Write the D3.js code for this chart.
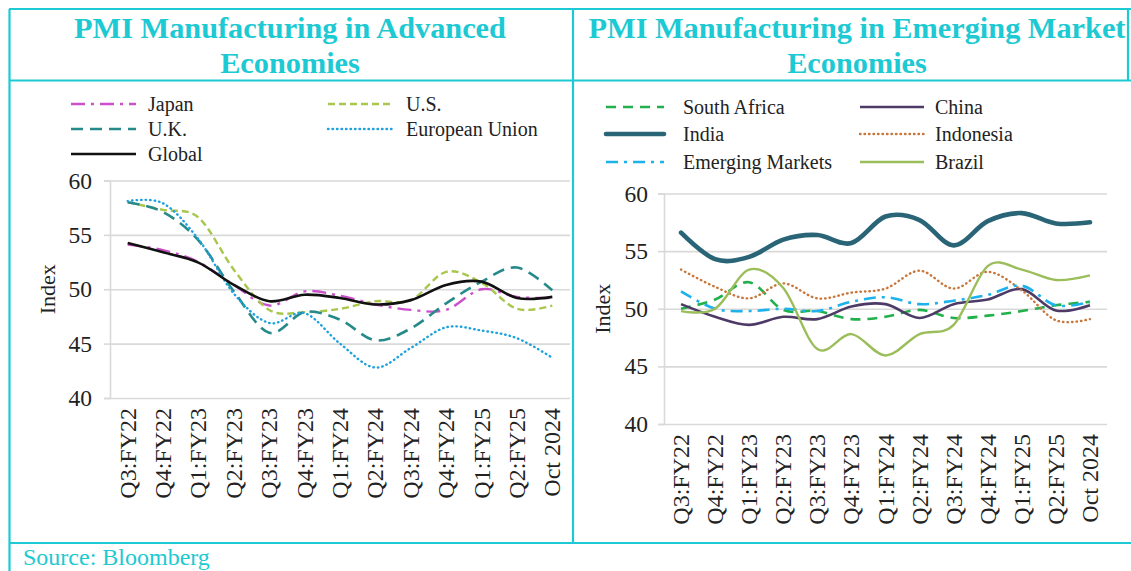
<!DOCTYPE html>
<html>
<head>
<meta charset="utf-8">
<script src="https://cdn.jsdelivr.net/npm/d3@7"></script>
<style>
body { margin: 0; background: #fff; }
svg { font-family: "Liberation Serif", "Times New Roman", serif; }
</style>
</head>
<body>
<script>
// categories (same for both panels)
var cats = ["Q3:FY22", "Q4:FY22", "Q1:FY23", "Q2:FY23", "Q3:FY23", "Q4:FY23",
	"Q1:FY24", "Q2:FY24", "Q3:FY24", "Q4:FY24", "Q1:FY25", "Q2:FY25", "Oct 2024"];
var yTicks = [40, 45, 50, 55, 60];

// advanced economies
var japan  = [54.1, 53.6, 52.5, 50.4, 48.5, 49.8, 49.4, 48.6, 48.1, 48.1, 50.0, 49.3, 49.2];
var us     = [58.0, 57.3, 56.6, 51.8, 48.1, 47.9, 48.2, 48.9, 49.0, 51.6, 50.6, 48.2, 48.5];
var uk     = [58.0, 57.1, 54.5, 49.8, 46.0, 47.9, 47.2, 45.3, 46.4, 48.7, 50.7, 52.0, 49.9];
var eu     = [58.1, 57.9, 54.6, 49.6, 46.9, 47.8, 45.0, 42.8, 44.6, 46.5, 46.2, 45.5, 43.7];
var global = [54.25, 53.4, 52.45, 50.4, 48.9, 49.5, 49.2, 48.6, 49.0, 50.4, 50.7, 49.2, 49.3];

// emerging markets
var southAfrica = [50.0, 50.8, 52.3, 49.9, 49.8, 49.1, 49.3, 49.9, 49.2, 49.4, 49.8, 50.3, 50.6];
var china       = [50.4, 49.3, 48.6, 49.3, 49.1, 50.2, 50.4, 49.2, 50.4, 50.8, 51.7, 49.85, 50.3];
var india       = [56.6, 54.3, 54.5, 56.0, 56.4, 55.7, 58.0, 57.7, 55.5, 57.6, 58.3, 57.4, 57.5];
var indonesia   = [53.4, 51.9, 50.9, 52.2, 50.9, 51.4, 51.75, 53.3, 51.75, 53.2, 51.6, 49.0, 49.1];
var emerging    = [51.5, 50.0, 49.8, 50.0, 49.8, 50.6, 51.0, 50.4, 50.7, 51.2, 52.0, 50.3, 50.6];
var brazil      = [49.8, 50.0, 53.4, 51.8, 46.5, 47.8, 45.95, 47.8, 48.6, 53.7, 53.4, 52.5, 52.9];

var frameColor = "#1DC9D2";

var svg = d3.select("body").append("svg")
	.attr("width", 1131)
	.attr("height", 571);

// frame / table lines
var frame = svg.append("g")
	.attr("stroke", frameColor)
	.attr("stroke-width", 2.2)
	.attr("fill", "none");
frame.append("line").attr("x1", 9).attr("x2", 1131).attr("y1", 9).attr("y2", 9);
frame.append("line").attr("x1", 9).attr("x2", 1131).attr("y1", 80.5).attr("y2", 80.5);
frame.append("line").attr("x1", 9).attr("x2", 1131).attr("y1", 543).attr("y2", 543);
frame.append("line").attr("x1", 9.5).attr("x2", 9.5).attr("y1", 9).attr("y2", 571);
frame.append("line").attr("x1", 573).attr("x2", 573).attr("y1", 9).attr("y2", 543);
frame.append("line").attr("x1", 1128).attr("x2", 1128).attr("y1", 9).attr("y2", 80.5);

// titles
function title(cx, lines)
{
	lines.forEach(function(t, i) {
		svg.append("text")
			.attr("x", cx)
			.attr("y", 38 + i * 35)
			.attr("text-anchor", "middle")
			.attr("fill", frameColor)
			.attr("font-weight", "bold")
			.attr("font-size", "30.3px")
			.text(t);
	});
}
title(290, ["PMI Manufacturing in Advanced", "Economies"]);
title(857, ["PMI Manufacturing in Emerging Market", "Economies"]);

svg.append("text")
	.attr("x", 23)
	.attr("y", 565)
	.attr("fill", frameColor)
	.attr("font-size", "24px")
	.text("Source: Bloomberg");

function drawPanel(p)
{
	var x = d3.scalePoint().domain(cats).range([p.left, p.right]).padding(0.5);
	var y = d3.scaleLinear().domain([40, 60]).range([p.bottom, p.top]);

	var g = svg.append("g");

	// gridlines
	g.append("g")
		.attr("transform", "translate(" + p.left + ",0)")
		.call(d3.axisLeft(y).tickValues(yTicks).tickSize(-(p.right - p.left)).tickFormat(""))
		.call(function(a) {
			a.select(".domain").remove();
			a.selectAll("line").attr("stroke", "#D9D9D9").attr("stroke-width", 1.6);
		});

	// y labels + little tick marks
	g.append("g")
		.attr("transform", "translate(" + p.left + ",0)")
		.call(d3.axisLeft(y).tickValues(yTicks).tickSize(6).tickPadding(p.pad))
		.call(function(a) {
			a.select(".domain").attr("stroke", "#D9D9D9").attr("stroke-width", 1.6);
			a.selectAll("line").attr("stroke", "#D9D9D9").attr("stroke-width", 1.6);
			a.selectAll("text")
				.attr("fill", "#222")
				.attr("font-size", "23.5px")
				.attr("font-family", "Liberation Serif, Times New Roman, serif");
		});

	// rotated category labels
	g.selectAll(".xl")
		.data(cats)
		.enter()
		.append("text")
		.attr("class", "xl")
		.attr("transform", function(d) { return "translate(" + (x(d) + 8) + "," + (p.bottom + 10) + ") rotate(-90)"; })
		.attr("text-anchor", "end")
		.attr("font-size", "24px")
		.attr("fill", "#222")
		.text(function(d) { return d; });

	// y title
	g.append("text")
		.attr("transform", "translate(" + p.titleX + "," + ((p.top + p.bottom) / 2) + ") rotate(-90)")
		.attr("text-anchor", "middle")
		.attr("font-size", "22px")
		.attr("fill", "#222")
		.text("Index");

	var line = d3.line()
		.x(function(d, i) { return x(cats[i]); })
		.y(function(d) { return y(d); })
		.curve(d3.curveCatmullRom.alpha(0));

	p.series.forEach(function(s) {
		g.append("path")
			.datum(s.values)
			.attr("d", line)
			.attr("fill", "none")
			.attr("stroke", s.color)
			.attr("stroke-width", s.width)
			.attr("stroke-dasharray", s.dash)
			.attr("stroke-linecap", s.cap || "butt");
	});

	// legend
	p.series.forEach(function(s, i) {
		var col = p.legend.cols[i % 2], ly = p.legend.rows[Math.floor(i / 2)];
		g.append("line")
			.attr("x1", col[0]).attr("x2", col[1])
			.attr("y1", ly).attr("y2", ly)
			.attr("stroke", s.color)
			.attr("stroke-width", s.width)
			.attr("stroke-dasharray", s.dash)
			.attr("stroke-linecap", s.cap || "butt");
		g.append("text")
			.attr("x", col[2])
			.attr("y", ly)
			.attr("dy", "0.35em")
			.attr("font-size", "20px")
			.attr("fill", "#222")
			.text(s.name);
	});
}

drawPanel({
	left: 110, right: 570, top: 180.5, bottom: 398, titleX: 55, pad: 12,
	legend: { cols: [[71, 136, 148], [328, 393, 406]], rows: [104, 129, 154] },
	series: [
		{ name: "Japan", values: japan, color: "#CC50CC", width: 2.4, dash: "14,6,3,6" },
		{ name: "U.S.", values: us, color: "#A9C64D", width: 2.4, dash: "7,4" },
		{ name: "U.K.", values: uk, color: "#278A8A", width: 2.6, dash: "12,7" },
		{ name: "European Union", values: eu, color: "#1EA2DE", width: 2.4, dash: "0.5,4", cap: "round" },
		{ name: "Global", values: global, color: "#111111", width: 2.6, dash: null }
	]
});

drawPanel({
	left: 664, right: 1107, top: 193.5, bottom: 424, titleX: 610, pad: 10,
	legend: { cols: [[606, 664, 683], [860, 924, 935]], rows: [107, 134, 162] },
	series: [
		{ name: "South Africa", values: southAfrica, color: "#22B04C", width: 2.6, dash: "10,7" },
		{ name: "China", values: china, color: "#4E3A66", width: 2.6, dash: null },
		{ name: "India", values: india, color: "#2A6477", width: 4.6, dash: null, cap: "round" },
		{ name: "Indonesia", values: indonesia, color: "#C8773A", width: 2.4, dash: "0.5,4", cap: "round" },
		{ name: "Emerging Markets", values: emerging, color: "#1DB2EC", width: 2.6, dash: "12,6,3,6" },
		{ name: "Brazil", values: brazil, color: "#9BBD5A", width: 2.4, dash: null }
	]
});
</script>
</body>
</html>
